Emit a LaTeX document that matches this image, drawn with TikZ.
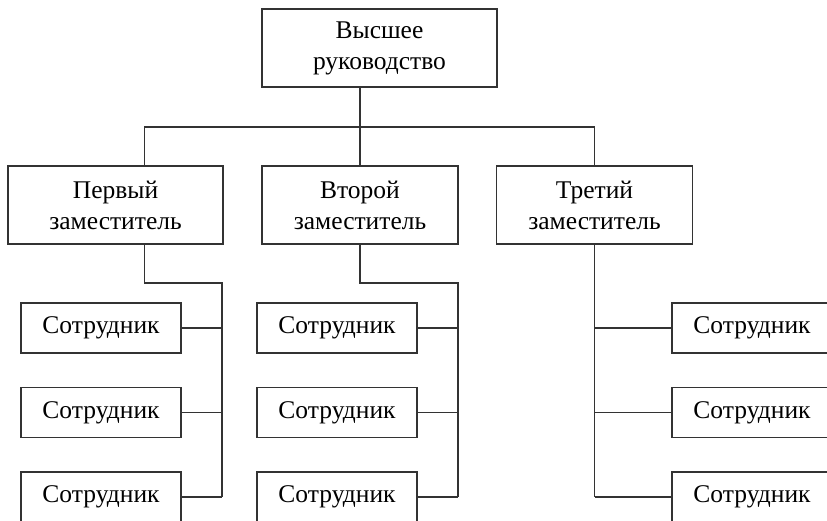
\documentclass[tikz,border=0pt]{standalone}
\usepackage{fontspec}
\setmainfont{Liberation Serif}
\usetikzlibrary{positioning}

\begin{document}
\begin{tikzpicture}[x=1pt,y=-1pt,node distance=84.5pt,on grid,
    box/.style={draw=black!80,line width=1.4pt,align=center,inner sep=0pt,
      font=\fontsize{25.5}{31}\selectfont},
    boss/.style={box,minimum width=235pt,minimum height=78pt},
    deputy/.style={box,minimum width=196pt,minimum height=78pt},
    worker/.style={box,minimum width=160pt,minimum height=50pt},
    link/.style={draw=black!80,line width=1.4pt}]
  \clip (0,0) rectangle (827,520);
  % top and deputies
  \node[boss] (top) at (379.5,48) {Высшее\\руководство};
  \node[deputy,minimum width=215pt] (d1) at (115.5,205) {Первый\\заместитель};
  \node[deputy] (d2) at (360,205) {Второй\\заместитель};
  \node[deputy] (d3) at (594.5,205) {Третий\\заместитель};
  % staff
  \node[worker] (w11) at (101,328) {Сотрудник};
  \node[worker,below=of w11] (w12) {Сотрудник};
  \node[worker,below=of w12] (w13) {Сотрудник};
  \node[worker] (w21) at (337,328) {Сотрудник};
  \node[worker,below=of w21] (w22) {Сотрудник};
  \node[worker,below=of w22] (w23) {Сотрудник};
  \node[worker] (w31) at (752,328) {Сотрудник};
  \node[worker,below=of w31] (w32) {Сотрудник};
  \node[worker,below=of w32] (w33) {Сотрудник};
  % links
  \coordinate (bar) at (144.5,127);
  \coordinate (bus1) at (222,283);
  \coordinate (bus2) at (458,283);
  \draw[link] (top.south -| d2.north) -- (d2.north);
  \draw[link] (bar |- d1.north) -- (bar) -- (bar -| d3.north) -- (d3.north);
  \draw[link] (d1.south -| bar) -- (bar |- bus1) -- (bus1) -- (bus1 |- w13.east);
  \draw[link] (d2.south) -- (d2.south |- bus2) -- (bus2) -- (bus2 |- w23.east);
  \draw[link] (d3.south) -- (d3.south |- w33.west);
  \foreach \i in {1,2,3} {
    \draw[link] (w1\i.east) -- (w1\i.east -| bus1);
    \draw[link] (w2\i.east) -- (w2\i.east -| bus2);
    \draw[link] (w3\i.west) -- (w3\i.west -| d3.south);
  }
\end{tikzpicture}
\end{document}
